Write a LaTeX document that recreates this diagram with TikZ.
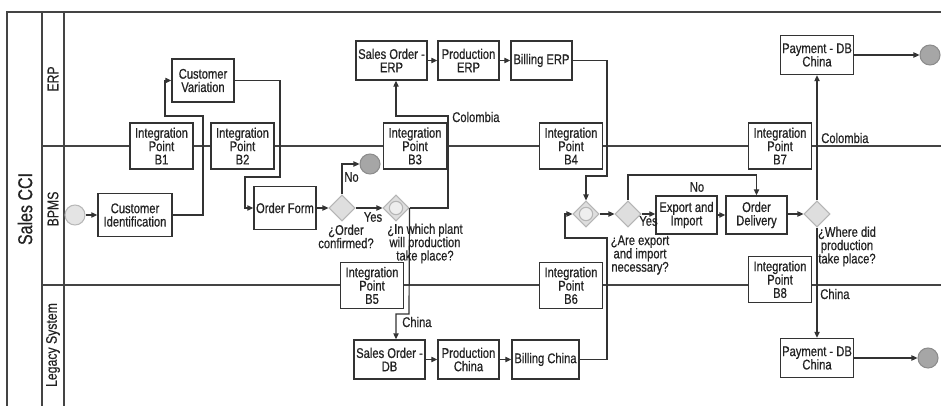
\documentclass[tikz,border=0pt]{standalone}
\usepackage{fontspec}
\setmainfont{Liberation Sans}[FakeStretch=0.8,FakeBold=0.6]
\usetikzlibrary{arrows.meta,shapes.geometric,calc}
\definecolor{linec}{HTML}{333333}
\definecolor{framec}{HTML}{444444}
\definecolor{gwfill}{HTML}{DEDEDE}
\definecolor{gwdraw}{HTML}{B5B5B5}
\definecolor{endfill}{HTML}{A6A6A6}
\definecolor{enddraw}{HTML}{8C8C8C}
\definecolor{startfill}{HTML}{E4E4E4}
\definecolor{startdraw}{HTML}{B8B8B8}
\definecolor{txtc}{HTML}{222222}
\begin{document}
\begin{tikzpicture}[x=0.75pt,y=-0.75pt,
  every node/.style={text=txtc},
  boxtxt/.style={font=\fontsize{10.5}{10}\selectfont},
  task/.style={draw=linec, line width=1.1pt, fill=white, align=center, inner sep=1pt,
    minimum height=29.25pt, boxtxt},
  ipbox/.style={task, minimum width=47.25pt, minimum height=34.5pt},
  gw/.style={diamond, aspect=1, minimum width=19.5pt, minimum height=19.5pt, inner sep=0pt,
    draw=gwdraw, fill=gwfill, line width=0.8pt},
  gwring/.style={circle, minimum size=10pt, inner sep=0pt, draw=gwdraw, fill=gwfill!50!white, line width=0.8pt},
  startev/.style={circle, minimum size=15pt, inner sep=0pt, draw=startdraw, fill=startfill, line width=0.8pt},
  endev/.style={circle, minimum size=15pt, inner sep=0pt, draw=enddraw, fill=endfill, line width=0.8pt},
  flow/.style={draw=linec, line width=0.9pt, -{Triangle[length=4.5pt,width=4pt]}},
  plain/.style={draw=linec, line width=0.9pt},
  lbl/.style={font=\fontsize{10.5}{10}\selectfont, align=center, inner sep=0pt},
  lanelbl/.style={font=\fontsize{11.5}{11.5}\selectfont, rotate=90, inner sep=0pt},
  poollbl/.style={font=\fontsize{15}{15}\selectfont, rotate=90, inner sep=0pt}
]
\useasboundingbox (0,0) rectangle (941,406);
% pool and lanes
\draw[framec, line width=1.2pt] (7,406) -- (7,12) -- (941,12);
\draw[framec, line width=1.2pt] (42,12) -- (42,406);
\draw[framec, line width=1.2pt] (64,12) -- (64,406);
\draw[framec, line width=1pt] (42,146) -- (941,146);
\draw[framec, line width=1pt] (42,285) -- (941,285);
\node[poollbl] (pool) at (25,209) {Sales CCI};
\node[lanelbl] (lerp) at (53,79) {ERP};
\node[lanelbl] (lbpms) at (53,209) {BPMS};
\node[lanelbl] (lleg) at (53,345) {Legacy System};

% nodes
\node[startev] (start) at (75,215) {};
\node[task, minimum width=55.5pt, minimum height=32.25pt] (ci) at (135,215) {Customer\\Identification};
\node[task, minimum width=46.5pt, minimum height=32.25pt] (cv) at (203,80.5) {Customer\\Variation};
\node[ipbox] (b1) at (161.5,146) {Integration\\Point\\B1};
\node[ipbox] (b2) at (242.5,146) {Integration\\Point\\B2};
\node[task, minimum width=46.5pt, minimum height=32.25pt] (of) at (285,208) {Order Form};
\node[gw] (gw1) at (342,208) {};
\node[endev] (end1) at (370,164) {};
\node[gw] (gw2) at (396,208) {};
\node[gwring] (gw2r) at (396,208) {};
\node[task, minimum width=53.25pt] (soerp) at (391.5,60.5) {Sales Order -\\ERP};
\node[task, minimum width=45.75pt] (perp) at (468.5,60.5) {Production\\ERP};
\node[task, minimum width=45.75pt] (berp) at (541.5,60.5) {Billing ERP};
\node[ipbox] (b3) at (415,146) {Integration\\Point\\B3};
\node[ipbox] (b4) at (571,146) {Integration\\Point\\B4};
\node[ipbox] (b5) at (372,285.5) {Integration\\Point\\B5};
\node[ipbox] (b6) at (571,285.5) {Integration\\Point\\B6};
\node[task, minimum width=53.25pt] (sodb) at (389.5,359.5) {Sales Order -\\DB};
\node[task, minimum width=45.75pt] (pchina) at (468.5,359.5) {Production\\China};
\node[task, minimum width=50.25pt] (bchina) at (545.5,359.5) {Billing China};
\node[gw] (gw3) at (586,214) {};
\node[gwring] (gw3r) at (586,214) {};
\node[gw] (gw4) at (628,214) {};
\node[task, minimum width=45.75pt, minimum height=28.5pt] (ei) at (686.5,215) {Export and\\Import};
\node[task, minimum width=45.75pt, minimum height=28.5pt] (od) at (756.5,215) {Order\\Delivery};
\node[gw] (gw5) at (817,214) {};
\node[task, minimum width=54.75pt] (pay1) at (817,55) {Payment - DB\\China};
\node[endev] (end2) at (930,55) {};
\node[ipbox] (b7) at (780,146) {Integration\\Point\\B7};
\node[ipbox] (b8) at (780,279.5) {Integration\\Point\\B8};
\node[task, minimum width=54.75pt] (pay2) at (817,358) {Payment - DB\\China};
\node[endev] (end3) at (928,358) {};

% connectors
\draw[flow] (start) -- (ci);
\draw[flow] (ci.east) -| (203,116) -| (165,80.5) -- (cv.west);
\draw[flow] (cv.east) -| (280,177) -| (245,208) -- (of.west);
\draw[flow] (of.east) -- (gw1.west);
\draw[flow] (gw1.north) |- (end1.west);
\draw[flow] (gw1.east) -- (gw2.west);
\draw[flow] (gw2.east) -| (448,116) -| (gw2 |- soerp.south);
\draw[flow] (gw2.east) -- (409,314) -| (gw2 |- sodb.north);
\draw[flow] (soerp) -- (perp);
\draw[flow] (perp) -- (berp);
\draw[flow] (berp.east) -| (607,176) -| (gw3.north);
\draw[flow] (sodb) -- (pchina);
\draw[flow] (pchina) -- (bchina);
\draw[flow] (bchina.east) -| (607,238) -| (565,214) -- (gw3.west);
\draw[flow] (gw3.east) -- (gw4.west);
\draw[flow] (gw4.north) -- (628,175) -| (od.north);
\draw[flow] (gw4.east) -- (ei.west |- gw4.east);
\draw[flow] (ei.east |- od.west) -- (od.west);
\draw[flow] (od.east |- gw5.west) -- (gw5.west);
\draw[flow] (gw5.north) -- (pay1.south);
\draw[flow] (gw5.south) -- (pay2.north);
\draw[flow] (pay1.east) -- (end2.west);
\draw[flow] (pay2.east) -- (end3.west);

% labels
\node[lbl] (tno1) at (351.5,177) {No};
\node[lbl] (tyes1) at (373,217) {Yes};
\node[lbl] (tgw1) at (346,236.5) {¿Order\\confirmed?};
\node[lbl] (tgw2) at (425,243.5) {¿In which plant\\will production\\take place?};
\node[lbl, anchor=west] (tcol1) at (452,117) {Colombia};
\node[lbl, anchor=west] (tchn1) at (402,322) {China};
\node[lbl] (tno2) at (697,187) {No};
\node[lbl] (tyes2) at (648.5,221) {Yes};
\node[lbl] (tgw4) at (640,255) {¿Are export\\and import\\necessary?};
\node[lbl] (tgw5) at (847,246.5) {¿Where did\\production\\take place?};
\node[lbl, anchor=west] (tcol2) at (821,138) {Colombia};
\node[lbl, anchor=west] (tchn2) at (820,294) {China};
\end{tikzpicture}
\end{document}
